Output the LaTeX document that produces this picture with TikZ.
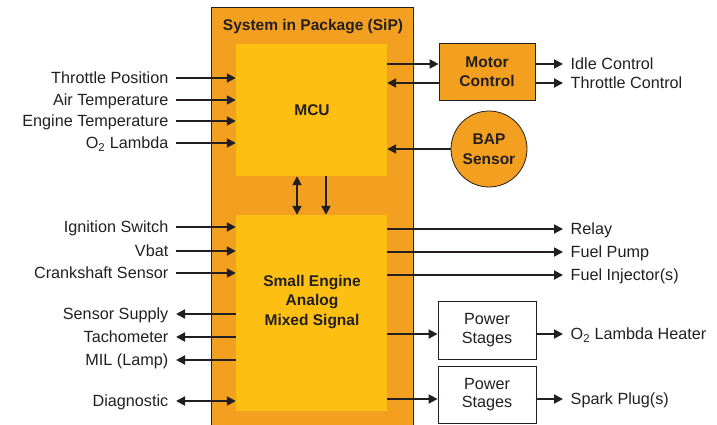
\documentclass[tikz,border=0pt]{standalone}
\usepackage{fontspec}
\setmainfont{Liberation Sans}
\usetikzlibrary{arrows.meta}
\definecolor{sipor}{RGB}{243,160,32}
\definecolor{mcuy}{RGB}{253,192,18}
\definecolor{ink}{RGB}{35,31,32}
\tikzset{
  lab/.style={font=\fontsize{16.2}{19}\selectfont, text=ink, text height=11.6pt, text depth=0pt, inner ysep=2pt, inner xsep=7.5pt},
  lableft/.style={lab, anchor=east},
  labright/.style={lab, anchor=west},
  boldtxt/.style={font=\fontsize{15.5}{19.5}\selectfont\bfseries, text=ink, align=center},
  plaintxt/.style={font=\fontsize{16.2}{18.5}\selectfont, text=ink, align=center},
  tip/.tip={Triangle[length=9pt,width=9pt]},
  arr/.style={draw=ink, line width=1.8pt, -tip},
  rarr/.style={draw=ink, line width=1.8pt, tip-},
  darr/.style={draw=ink, line width=1.8pt, tip-tip},
  plain/.style={draw=ink, line width=1.8pt},
  thinbox/.style={draw=ink, line width=0.8pt, inner sep=0pt},
}
\begin{document}
\begin{tikzpicture}[x=1pt,y=-1pt]
\useasboundingbox (0,0) rectangle (717,425);
% SiP package
\node[thinbox, fill=sipor, minimum width=202pt, minimum height=433pt, anchor=north west] (sip) at (211,7) {};
\node[boldtxt] (title) at (313,27) {System in Package (SiP)};
% MCU
\node[fill=mcuy, minimum width=151pt, minimum height=132pt, inner sep=0pt] (mcu) at (311.5,110) {};
\node[boldtxt] (mculab) at (312,110) {MCU};
% Small engine
\node[fill=mcuy, minimum width=151pt, minimum height=196pt, inner sep=0pt] (se) at (311.5,313) {};
\node[boldtxt] (selab) at (312,302) {Small Engine\\Analog\\Mixed Signal};
% Motor control
\node[thinbox, fill=sipor, minimum width=96pt, minimum height=57pt, boldtxt] (mc) at (487,71.5) {Motor\\Control};
% BAP sensor
\node[thinbox, circle, fill=sipor, minimum size=76pt, boldtxt] (bap) at (489,149) {BAP\\Sensor};
% Power stages
\node[thinbox, fill=white, minimum width=98pt, minimum height=58pt, plaintxt] (ps1) at (487,330) {Power\\Stages};
\node[thinbox, fill=white, minimum width=98pt, minimum height=57pt, plaintxt] (ps2) at (487,394.5) {Power\\Stages};

% left inputs to MCU
\node[lableft] (thr) at (176,78) {Throttle Position};
\node[lableft] (air) at (176,100) {Air Temperature};
\node[lableft] (eng) at (176,121) {Engine Temperature};
\node[lableft] (o2) at (176,143) {O\textsubscript{2} Lambda};
\foreach \n in {thr,air,eng,o2} \draw[arr] (\n.east) -- (\n.east -| mcu.west);

% left side small engine
\node[lableft] (ign) at (176,227) {Ignition Switch};
\node[lableft] (vbat) at (176,251) {Vbat};
\node[lableft] (crank) at (176,273) {Crankshaft Sensor};
\node[lableft] (ssup) at (176,314) {Sensor Supply};
\node[lableft] (tach) at (176,337) {Tachometer};
\node[lableft] (mil) at (176,360) {MIL (Lamp)};
\node[lableft] (diag) at (176,401) {Diagnostic};
\foreach \n in {ign,vbat,crank} \draw[arr] (\n.east) -- (\n.east -| se.west);
\foreach \n in {ssup,tach,mil} \draw[rarr] (\n.east) -- (\n.east -| se.west);
\draw[darr] (diag.east) -- (diag.east -| se.west);

% MCU <-> SE
\draw[darr] (mcu.south -| 297,0) -- (se.north -| 297,0);
\draw[arr] (mcu.south -| 326,0) -- (se.north -| 326,0);

% MCU <-> motor control
\draw[arr] (mcu.east |- 0,64) -- (mc.west |- 0,64);
\draw[rarr] (mcu.east |- 0,83) -- (mc.west |- 0,83);
\node[labright] (idle) at (563,64) {Idle Control};
\node[labright] (thc) at (563,83) {Throttle Control};
\draw[arr] (mc.east |- idle.west) -- (idle.west);
\draw[arr] (mc.east |- thc.west) -- (thc.west);

% BAP
\draw[arr] (bap.west) -- (bap.west -| mcu.east);

% right outputs
\node[labright] (relay) at (563,229) {Relay};
\node[labright] (fpump) at (563,252) {Fuel Pump};
\node[labright] (finj) at (563,275) {Fuel Injector(s)};
\foreach \n in {relay,fpump,finj} \draw[arr] (\n.west -| se.east) -- (\n.west);

\node[labright] (heat) at (563,334) {O\textsubscript{2} Lambda Heater};
\node[labright] (spark) at (563,399) {Spark Plug(s)};
\draw[arr] (se.east |- heat.west) -- (ps1.west |- heat.west);
\draw[arr] (ps1.east |- heat.west) -- (heat.west);
\draw[arr] (se.east |- spark.west) -- (ps2.west |- spark.west);
\draw[arr] (ps2.east |- spark.west) -- (spark.west);
\end{tikzpicture}
\end{document}
